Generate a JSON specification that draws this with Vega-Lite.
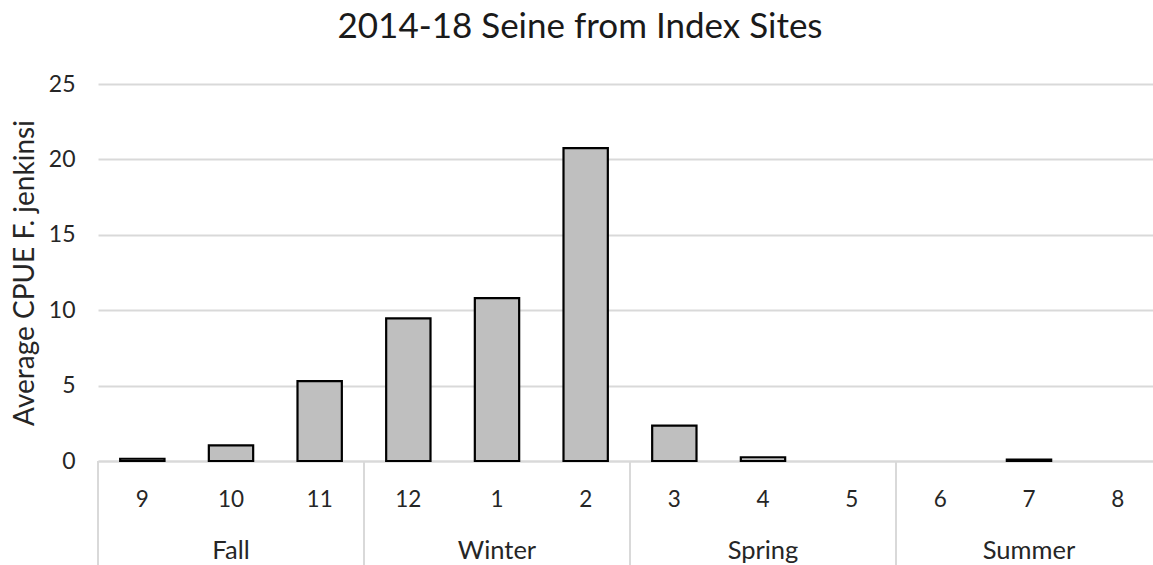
{
  "$schema": "https://vega.github.io/schema/vega-lite/v6.json",
  "width": 1064,
  "height": 377,
  "autosize": {"type": "none"},
  "padding": {"left": 98, "top": 84, "right": 0, "bottom": 104},
  "background": "white",
  "title": {
    "text": "2014-18 Seine from Index Sites",
    "font": "Lato",
    "fontSize": 35,
    "fontWeight": "normal",
    "color": "#1a1a1a",
    "anchor": "middle",
    "dx": -50,
    "offset": 28
  },
  "config": {"view": {"stroke": null}, "font": "Lato"},
  "layer": [
    {
      "data": {
        "values": [
          {"month": "9", "cpue": 0.15},
          {"month": "10", "cpue": 1.04},
          {"month": "11", "cpue": 5.3},
          {"month": "12", "cpue": 9.46},
          {"month": "1", "cpue": 10.8},
          {"month": "2", "cpue": 20.75},
          {"month": "3", "cpue": 2.35},
          {"month": "4", "cpue": 0.25},
          {"month": "5", "cpue": null},
          {"month": "6", "cpue": null},
          {"month": "7", "cpue": 0.09},
          {"month": "8", "cpue": null}
        ]
      },
      "mark": {"type": "bar", "width": {"band": 0.5}, "fill": "#bfbfbf", "stroke": "#000000", "strokeWidth": 2.2},
      "encoding": {
        "x": {
          "field": "month",
          "type": "ordinal",
          "title": null,
          "scale": {"domain": ["9", "10", "11", "12", "1", "2", "3", "4", "5", "6", "7", "8"], "paddingInner": 0, "paddingOuter": 0},
          "axis": {
            "labelFont": "Lato",
            "labelFontSize": 22.5,
            "labelColor": "#262626",
            "labelAngle": 0,
            "labelPadding": 27,
            "ticks": false,
            "tickSize": 0,
            "domainColor": "#d9d9d9",
            "domainWidth": 2,
            "grid": false
          }
        },
        "y": {
          "field": "cpue",
          "type": "quantitative",
          "title": "Average CPUE F. jenkinsi",
          "scale": {"domain": [0, 25]},
          "axis": {
            "values": [0, 5, 10, 15, 20, 25],
            "labelFont": "Lato",
            "labelFontSize": 23,
            "labelColor": "#262626",
            "labelPadding": 23,
            "ticks": false,
            "tickSize": 0,
            "domain": false,
            "grid": true,
            "gridColor": "#d9d9d9",
            "gridWidth": 2,
            "titleFont": "Lato",
            "titleFontSize": 28,
            "titleFontWeight": "normal",
            "titleColor": "#262626",
            "titlePadding": 9
          }
        }
      }
    },
    {
      "data": {"values": [{"start": "9"}, {"start": "12"}, {"start": "3"}, {"start": "6"}]},
      "mark": {"type": "rule", "color": "#d9d9d9", "strokeWidth": 2},
      "encoding": {
        "x": {"field": "start", "type": "ordinal", "bandPosition": 0, "title": null,
              "scale": {"domain": ["9", "10", "11", "12", "1", "2", "3", "4", "5", "6", "7", "8"], "paddingInner": 0, "paddingOuter": 0}},
        "y": {"datum": 0, "type": "quantitative", "scale": {"domain": [0, 25]}},
        "y2": {"datum": -6.95}
      }
    },
    {
      "data": {
        "values": [
          {"season": "Fall", "mid": "10"},
          {"season": "Winter", "mid": "1"},
          {"season": "Spring", "mid": "4"},
          {"season": "Summer", "mid": "7"}
        ]
      },
      "mark": {"type": "text", "font": "Lato", "fontSize": 25.5, "color": "#262626", "baseline": "alphabetic"},
      "encoding": {
        "x": {"field": "mid", "type": "ordinal", "title": null,
              "scale": {"domain": ["9", "10", "11", "12", "1", "2", "3", "4", "5", "6", "7", "8"], "paddingInner": 0, "paddingOuter": 0}},
        "y": {"datum": -6.5, "type": "quantitative", "scale": {"domain": [0, 25]}},
        "text": {"field": "season"}
      }
    }
  ]
}
